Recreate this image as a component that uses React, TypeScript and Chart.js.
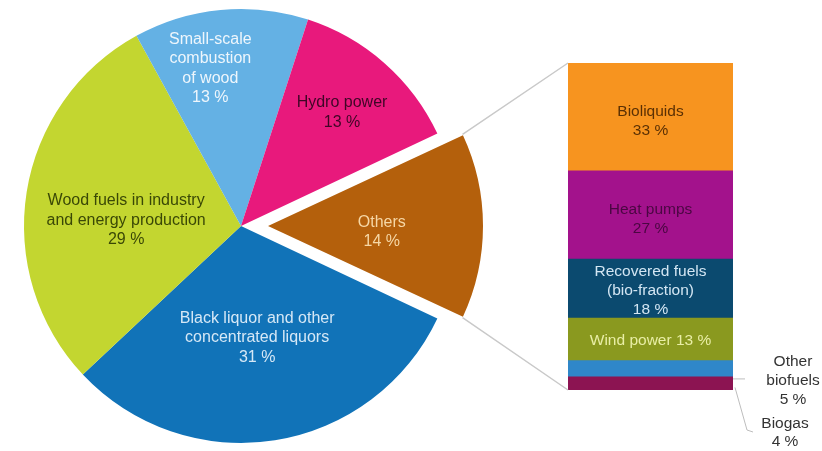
import { useEffect, useRef } from 'react';
import { Chart, registerables } from 'chart.js';

Chart.register(...registerables);

// ---- Pie data (clockwise from the exploded slice) ----
const pieCategories = [
  'Others',
  'Black liquor and other concentrated liquors',
  'Wood fuels in industry and energy production',
  'Small-scale combustion of wood',
  'Hydro power',
];
const pieValues = [14, 31, 29, 13, 13];
const pieLabelLines = [
  ['Others', '14 %'],
  ['Black liquor and other', 'concentrated liquors', '31 %'],
  ['Wood fuels in industry', 'and energy production', '29 %'],
  ['Small-scale', 'combustion', 'of wood', '13 %'],
  ['Hydro power', '13 %'],
];

// ---- Breakdown of "Others" (bottom to top) ----
const barCategories = ['Biogas', 'Other biofuels', 'Wind power', 'Recovered fuels (bio-fraction)', 'Heat pumps', 'Bioliquids'];
const barValues = [4, 5, 13, 18, 27, 33];
const barLabelLines = [
  ['Biogas', '4 %'],
  ['Other', 'biofuels', '5 %'],
  ['Wind power 13 %'],
  ['Recovered fuels', '(bio-fraction)', '18 %'],
  ['Heat pumps', '27 %'],
  ['Bioliquids', '33 %'],
];

// ---- styles ----
const pieColors = ['#b4600c', '#1173b8', '#c3d630', '#64b1e4', '#e8197c'];
const pieTextColors = ['#f6d7a6', '#d6e8f6', '#3a4806', '#eef6fc', '#3f0626'];
// [fraction along slice angle, fraction of radius]
const pieLabelPos = [[0.56, 0.53], [0.507, 0.52], [0.44, 0.53], [0.38, 0.74], [0.506, 0.7]];
const pieOffsets = [108, 0, 0, 0, 0];
const barColors = ['#8c1452', '#2f87c9', '#8a991f', '#0b4a6f', '#a3128c', '#f7941f'];
const barTextColors = ['#333333', '#333333', '#e9eea6', '#d3e6f3', '#4a0742', '#5a3004'];
const FONT_PIE = "16px 'Liberation Sans', Arial, sans-serif";
const FONT_BAR = "15.5px 'Liberation Sans', Arial, sans-serif";

function drawLines(ctx: CanvasRenderingContext2D, lines: string[], x: number, cy: number, lh: number) {
  const start = cy - ((lines.length - 1) * lh) / 2;
  lines.forEach((t, i) => ctx.fillText(t, x, start + i * lh));
}

function explodeGeometry(arc: any, i: number) {
  const half = (arc.startAngle + arc.endAngle) / 2;
  const shift = pieOffsets[i] / 4;
  const fix = 1 - Math.sin(Math.min(Math.PI, arc.endAngle - arc.startAngle));
  return {
    cx: arc.x + Math.cos(half) * shift,
    cy: arc.y + Math.sin(half) * shift,
    R: arc.outerRadius + shift * fix,
    shift,
    fix,
  };
}

export default function App() {
  const pieRef = useRef<HTMLCanvasElement>(null);
  const barRef = useRef<HTMLCanvasElement>(null);

  useEffect(() => {
    document.body.style.margin = '0';
    const pieLabelPlugin = {
      id: 'pieLabels',
      afterDatasetUpdate(chart: any) {
        // keep the exploded slice at the same radius as the rest of the pie
        const meta = chart.getDatasetMeta(0);
        meta.data.forEach((arc: any, i: number) => {
          if (pieOffsets[i]) {
            const g = explodeGeometry(arc, i);
            arc.outerRadius = arc.outerRadius - g.shift * g.fix - 2;
          }
        });
      },
      afterDatasetsDraw(chart: any) {
        const ctx = chart.ctx;
        const meta = chart.getDatasetMeta(0);
        ctx.save();
        ctx.font = FONT_PIE;
        ctx.textAlign = 'center';
        ctx.textBaseline = 'middle';
        meta.data.forEach((arc: any, i: number) => {
          const { startAngle, endAngle } = arc;
          const g = explodeGeometry(arc, i);
          const a = startAngle + (endAngle - startAngle) * pieLabelPos[i][0];
          const r = g.R * pieLabelPos[i][1];
          ctx.fillStyle = pieTextColors[i];
          drawLines(ctx, pieLabelLines[i], g.cx + Math.cos(a) * r, g.cy + Math.sin(a) * r, 19.5);
        });
        ctx.restore();
      },
    };

    const pieChart = new Chart(pieRef.current!, {
      type: 'pie',
      data: {
        labels: pieCategories,
        datasets: [
          {
            data: pieValues,
            backgroundColor: pieColors,
            borderWidth: 0,
            offset: pieOffsets,
          } as any,
        ],
      },
      options: {
        animation: false,
        responsive: false,
        rotation: 90 - (pieValues[0] / 100) * 180,
        radius: 217,
        layout: { padding: { left: 0, right: 340, top: 1, bottom: 0 } },
        plugins: { legend: { display: false }, tooltip: { enabled: false } },
      } as any,
      plugins: [pieLabelPlugin],
    });

    const barLabelPlugin = {
      id: 'barLabels',
      afterDatasetsDraw(chart: any) {
        const ctx = chart.ctx;
        const els = barValues.map((_, i) => chart.getDatasetMeta(i).data[0] as any);
        const left = els[0].x - els[0].width / 2;
        const right = els[0].x + els[0].width / 2;
        ctx.save();
        // connectors from the exploded slice to the bar
        const arc: any = pieChart.getDatasetMeta(0).data[0];
        const g = explodeGeometry(arc, 0);
        ctx.strokeStyle = '#c9c9c9';
        ctx.lineWidth = 1.5;
        ctx.beginPath();
        ctx.moveTo(g.cx + Math.cos(arc.startAngle) * g.R, g.cy + Math.sin(arc.startAngle) * g.R);
        ctx.lineTo(left, els[5].y);
        ctx.moveTo(g.cx + Math.cos(arc.endAngle) * g.R, g.cy + Math.sin(arc.endAngle) * g.R);
        ctx.lineTo(left, els[0].base);
        ctx.stroke();

        // inside labels
        ctx.textAlign = 'center';
        ctx.textBaseline = 'middle';
        ctx.font = FONT_BAR;
        const nudge = [0, 0, 1, 2, 4, 4];
        for (let i = 2; i < els.length; i++) {
          const el = els[i];
          ctx.fillStyle = barTextColors[i];
          drawLines(ctx, barLabelLines[i], el.x, (el.y + el.base) / 2 + nudge[i], 19);
        }
        // outside labels with leaders
        ctx.strokeStyle = '#bdbdbd';
        ctx.lineWidth = 1;
        ctx.beginPath();
        ctx.moveTo(right, els[1].base + 2);
        ctx.lineTo(right + 12, els[1].base + 2);
        ctx.moveTo(right + 2, (els[0].y + els[0].base) / 2 + 4);
        ctx.lineTo(right + 14, els[0].base + 40);
        ctx.lineTo(right + 20, els[0].base + 42);
        ctx.stroke();
        ctx.fillStyle = barTextColors[1];
        drawLines(ctx, barLabelLines[1], right + 60, els[1].base + 4, 19);
        ctx.fillStyle = barTextColors[0];
        drawLines(ctx, barLabelLines[0], right + 52, els[0].base + 43, 18);
        ctx.restore();
      },
    };

    const barChart = new Chart(barRef.current!, {
      type: 'bar',
      data: {
        labels: ['Others'],
        datasets: barCategories.map((c, i) => ({
          label: c,
          data: [barValues[i]],
          backgroundColor: barColors[i],
          borderWidth: 0,
          barPercentage: 1,
          categoryPercentage: 1,
        })),
      },
      options: {
        animation: false,
        responsive: false,
        layout: { padding: { left: 568, right: 89, top: 63, bottom: 61 } },
        scales: {
          x: { stacked: true, display: false },
          y: { stacked: true, display: false, min: 0, max: 100 },
        },
        plugins: { legend: { display: false }, tooltip: { enabled: false } },
      },
      plugins: [barLabelPlugin],
    });

    return () => {
      barChart.destroy();
      pieChart.destroy();
    };
  }, []);

  return (
    <div style={{ position: 'fixed', left: 0, top: 0, width: 822, height: 451, background: '#fff' }}>
      <canvas ref={pieRef} width={822} height={451} style={{ position: 'absolute', left: 0, top: 0 }} />
      <canvas ref={barRef} width={822} height={451} style={{ position: 'absolute', left: 0, top: 0 }} />
    </div>
  );
}
